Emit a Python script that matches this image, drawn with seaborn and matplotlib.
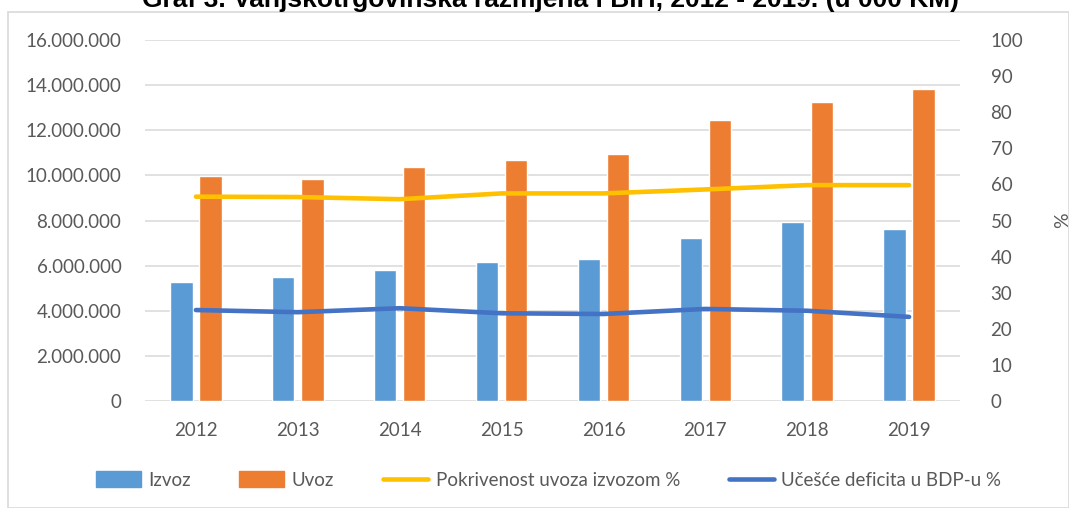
import numpy as np
import pandas as pd
import matplotlib
matplotlib.use('Agg')
import matplotlib.pyplot as plt
import seaborn as sns
from matplotlib.patches import Patch, Rectangle
from matplotlib.lines import Line2D
from matplotlib.ticker import FuncFormatter, MultipleLocator

# Podaci (ocitano sa grafikona)
godine = ['2012', '2013', '2014', '2015', '2016', '2017', '2018', '2019']
izvoz = [5270000, 5510000, 5790000, 6160000, 6280000, 7240000, 7930000, 7610000]
uvoz = [9990000, 9830000, 10360000, 10680000, 10930000, 12440000, 13250000, 13840000]
pokrivenost = [56.6, 56.5, 55.9, 57.5, 57.5, 58.6, 59.8, 59.8]
ucesce_deficita = [25.2, 24.6, 25.7, 24.3, 24.1, 25.5, 25.0, 23.3]

naslov = 'Graf 3. Vanjskotrgovinska razmjena i BiH, 2012 - 2019. (u 000 KM)'
legenda = ['Izvoz', 'Uvoz', 'Pokrivenost uvoza izvozom %', 'Učešće deficita u BDP-u %']

boja_izvoz = '#5B9BD5'
boja_uvoz = '#ED7D31'
boja_pokr = '#FFC000'
boja_ucesce = '#4472C4'
siva = '#595959'

sns.set_theme(style='white')
plt.rcParams['font.family'] = ['Lato', 'DejaVu Sans']

df = pd.DataFrame({
    'godina': godine * 2,
    'vrijednost': izvoz + uvoz,
    'serija': ['Izvoz'] * len(godine) + ['Uvoz'] * len(godine),
})

fig = plt.figure(figsize=(10.69, 5.08), dpi=100)
ax = fig.add_axes([145 / 1069, 1 - 401 / 508, 815 / 1069, 361 / 508])

sns.barplot(data=df, x='godina', y='vrijednost', hue='serija',
            palette=[boja_izvoz, boja_uvoz], width=0.57, gap=0.23,
            saturation=1, legend=False, ax=ax)

ax.set_ylim(0, 16000000)
ax.set_xlim(-0.5, 7.5)
ax.yaxis.set_major_locator(MultipleLocator(2000000))
ax.yaxis.set_major_formatter(FuncFormatter(lambda v, p: f'{v:,.0f}'.replace(',', '.')))
ax.grid(axis='y', color='#D9D9D9', lw=1.1)
ax.set_axisbelow(True)
for s in ax.spines.values():
    s.set_visible(False)
ax.set_xlabel('')
ax.set_ylabel('')
ax.tick_params(axis='y', length=0, pad=17, labelsize=13.5, labelcolor=siva)
ax.tick_params(axis='x', length=0, pad=15, labelsize=13.5, labelcolor=siva)

# Sekundarna osa za procente
ax2 = ax.twinx()
x_idx = np.arange(len(godine))
sns.lineplot(x=x_idx, y=pokrivenost, color=boja_pokr, lw=3.3, ax=ax2,
             solid_capstyle='round')
sns.lineplot(x=x_idx, y=ucesce_deficita, color=boja_ucesce, lw=3.3, ax=ax2,
             solid_capstyle='round')
ax2.set_ylim(0, 100)
ax2.set_xlim(-0.5, 7.5)
ax2.yaxis.set_major_locator(MultipleLocator(10))
for s in ax2.spines.values():
    s.set_visible(False)
ax2.tick_params(axis='y', length=0, pad=22, labelsize=13.5, labelcolor=siva)
ax2.set_ylabel('%', fontsize=14, color=siva, labelpad=22)

# Legenda
handles = [Patch(color=boja_izvoz), Patch(color=boja_uvoz),
           Line2D([], [], color=boja_pokr, lw=3.3),
           Line2D([], [], color=boja_ucesce, lw=3.3)]
fig.legend(handles, legenda, loc='center', bbox_to_anchor=(0.513, 1 - 480 / 508),
           ncol=4, frameon=False, fontsize=13.5, labelcolor=siva,
           handlelength=2.4, handleheight=0.9, handletextpad=0.4, columnspacing=2.6)

# Naslov (djelimicno odsjecen gore, kao u originalu) i okvir
fig.text(550 / 1069, 1 - 7 / 508, naslov, ha='center', va='baseline',
         fontsize=19, fontweight='bold', family='Liberation Sans', color='black')
fig.patches.append(Rectangle((8 / 1069, 0), 1 - 8 / 1069, 1 - 12 / 508,
                             transform=fig.transFigure, fill=False,
                             edgecolor='#D9D9D9', lw=1.2))

plt.savefig('out.png', dpi=100)
